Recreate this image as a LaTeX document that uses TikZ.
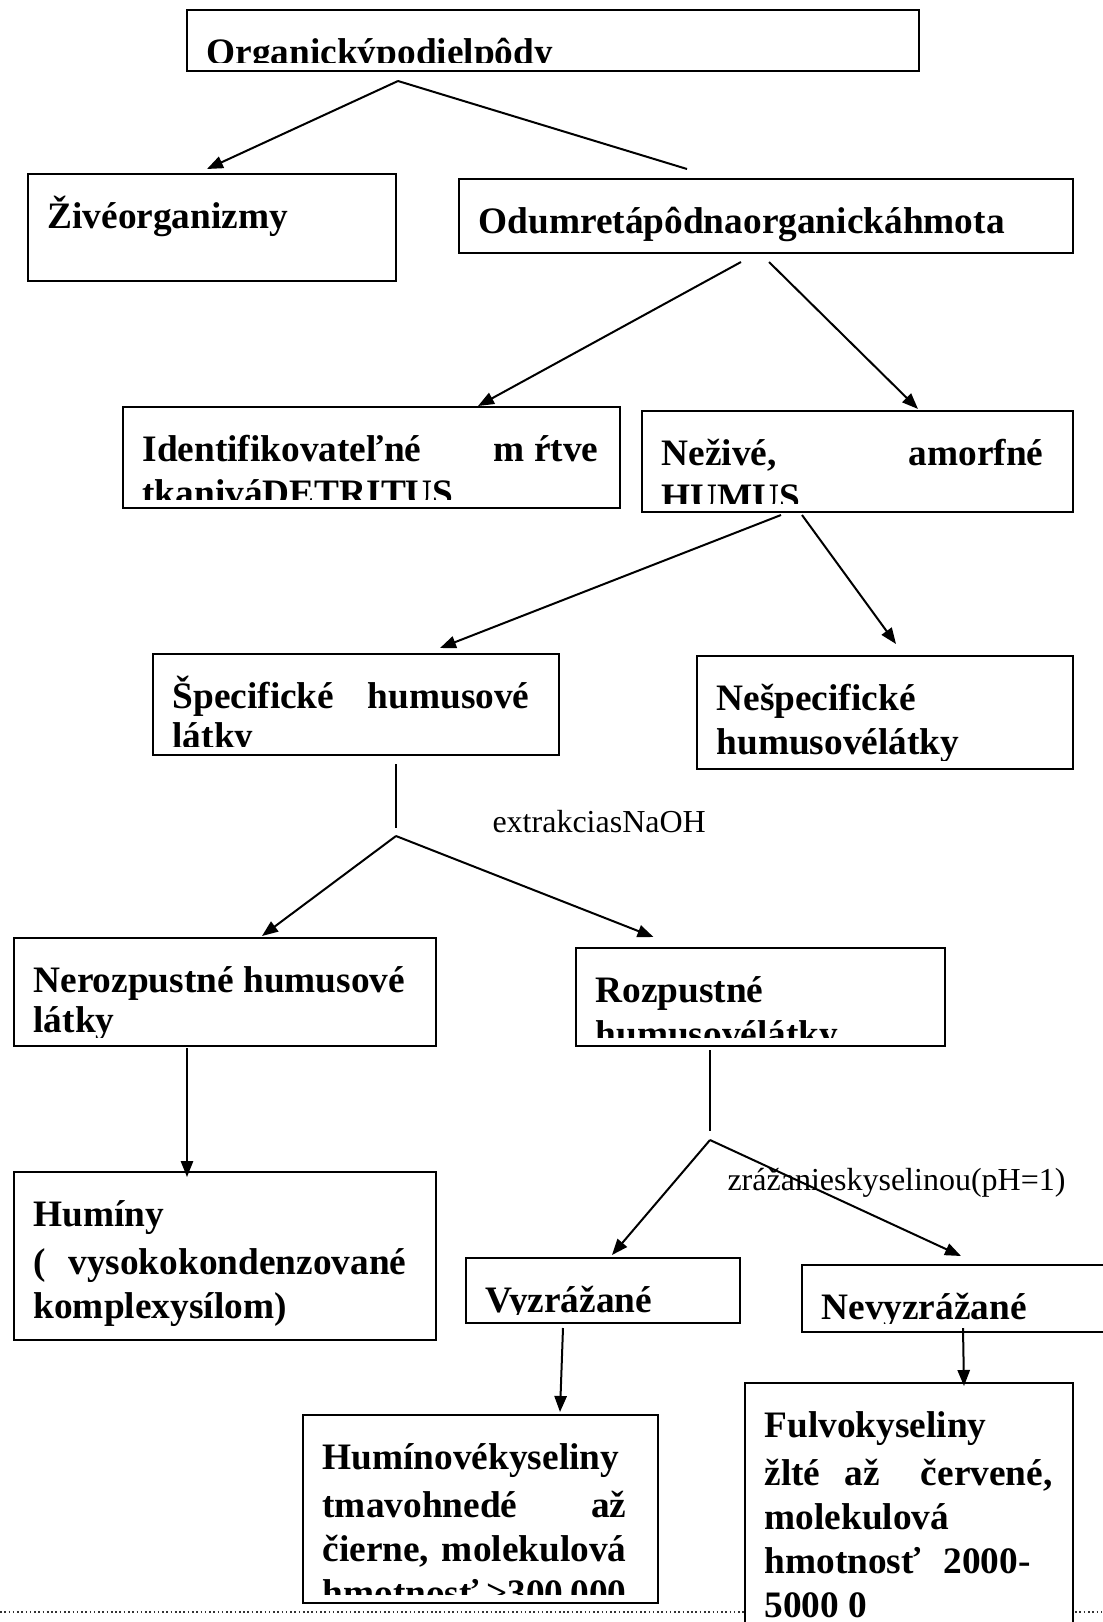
\documentclass[tikz,border=0pt]{standalone}
\usepackage{fontspec}
\setmainfont{Liberation Serif}
\usetikzlibrary{arrows.meta,calc}
\newcommand{\pxu}{0.375pt}
% box with its text clipped a little above the bottom edge
\newcommand{\tbox}[6]{%
  \node[box, minimum width=#3*\pxu, minimum height=#4*\pxu] (#1) at (#2) {};
  \pgfmathsetlengthmacro{\tboxw}{#5*\pxu}
  \begin{scope}
    \clip (#1.north west) rectangle ([yshift=9*\pxu]#1.south east);
    \node[txt, text width=\tboxw] (#1-t) at ([shift={(19*\pxu,-54*\pxu)}]#1.north west) {#6};
  \end{scope}}

\begin{document}
\begin{tikzpicture}[x=0.375pt,y=-0.375pt,
  box/.style={draw,fill=white,line width=1pt,anchor=north west,inner sep=0pt,outer sep=0pt},
  txt/.style={anchor=base west,inner sep=0pt,align=justify,font=\fontsize{14pt}{16.5pt}\selectfont\bfseries},
  lbl/.style={anchor=base west,inner sep=0pt,font=\fontsize{12pt}{14pt}\selectfont},
  conn/.style={line width=0.75pt},
  arr/.style={line width=0.75pt,-{Triangle[length=6pt,width=4.6pt]}}]
\useasboundingbox (0,0) rectangle (1102,1622);
\coordinate (pb-l) at (0,1612);
\coordinate (pb-r) at (1102,1612);
\draw[densely dotted,line width=0.6pt,black!80] (pb-l) -- (pb-r);

\tbox{top}{187,10}{732}{61}{694}{Organickýpodielpôdy}
\tbox{ziv}{28,174}{368}{107}{330}{Živéorganizmy}
\tbox{odum}{459,179}{614}{74}{576}{Odumretápôdnaorganickáhmota}
\tbox{ident}{123,407}{497}{101}{456}{Identifikovateľné\hfill m ŕtve\\tkaniváDETRITUS}
\tbox{neziv}{642,411}{431}{101}{382}{Neživé,\hfill amorfné\\HUMUS}
\tbox{spec}{153,654}{406}{101}{357}{Špecifické\hfill humusové\\[-1.5pt]látky}
\tbox{nespec}{697,656}{376}{113}{338}{Nešpecifické\\humusovélátky}
\tbox{nerozp}{14,938}{422}{108}{384}{Nerozpustné humusové\\[-1.5pt]látky}
\tbox{rozp}{576,948}{369}{98}{331}{Rozpustné\\humusovélátky}
\tbox{huminy}{14,1172}{422}{168}{373}{Humíny\\[1.5pt](\hfill vysokokondenzované\\komplexysílom)}
\tbox{vyzr}{466,1258}{274}{65}{236}{Vyzrážané}
\tbox{nevyzr}{802,1265}{313}{67}{262}{Nevyzrážané}
\tbox{huminove}{303,1415}{355}{188}{304}{Humínovékyseliny\\[1.5pt]tmavohnedé\hfill až\\čierne,\hfill molekulová\\hmotnosť >300 000}
\tbox{fulvo}{745,1383}{328}{260}{288}{Fulvokyseliny\\[1.5pt]žlté\hspace{9pt}až\hfill červené,\\molekulová\\hmotnosť\hspace{8.5pt}2000-\\5000 0}

\node[lbl] (extr) at (492,832) {extrakciasNaOH};
\node[lbl] (zraz) at (727,1190) {zrážanieskyselinou(pH=1)};

\coordinate (f-top) at ($(top.south)+(-155,10)$);
\draw[arr] (f-top) -- ($(ziv.north)+(-5,-5)$);
\draw[conn] (f-top) -- ($(odum.north)+(-79,-10)$);
\draw[arr] ($(odum.south)+(-25,9)$) -- ($(ident.north)+(106.5,-1)$);
\draw[arr] ($(odum.south)+(3,9)$) -- ($(neziv.north)+(60.5,-2)$);
\draw[arr] ($(neziv.south)+(-76.5,3)$) -- ($(spec.north)+(84,-6)$);
\draw[arr] ($(neziv.south)+(-55.5,3)$) -- ($(nespec.north)+(11,-12)$);
\coordinate (f-ext) at ($(spec.south)+(40,81)$);
\draw[conn] ($(spec.south)+(40,9)$) -- ($(f-ext)+(0,-8)$);
\draw[arr] (f-ext) -- ($(nerozp.north)+(37,-2)$);
\draw[arr] (f-ext) -- ($(rozp.north)+(-107,-11)$);
\draw[arr] ($(nerozp.south)+(-38,2)$) -- ($(huminy.north)+(-38,5)$);
\coordinate (f-zraz) at ($(rozp.south)+(-50.5,94)$);
\draw[conn] ($(rozp.south)+(-50.5,4)$) -- ($(f-zraz)+(0,-9)$);
\draw[arr] (f-zraz) -- ($(vyzr.north)+(9,-3)$);
\draw[arr] (f-zraz) -- ($(nevyzr.north)+(2.5,-9)$);
\draw[arr] ($(vyzr.south)+(-40,5)$) -- ($(huminove.north)+(79.5,-3)$);
\draw[arr] ($(nevyzr.south)+(4.5,-4)$) -- ($(fulvo.north)+(55,3)$);
\end{tikzpicture}
\end{document}
